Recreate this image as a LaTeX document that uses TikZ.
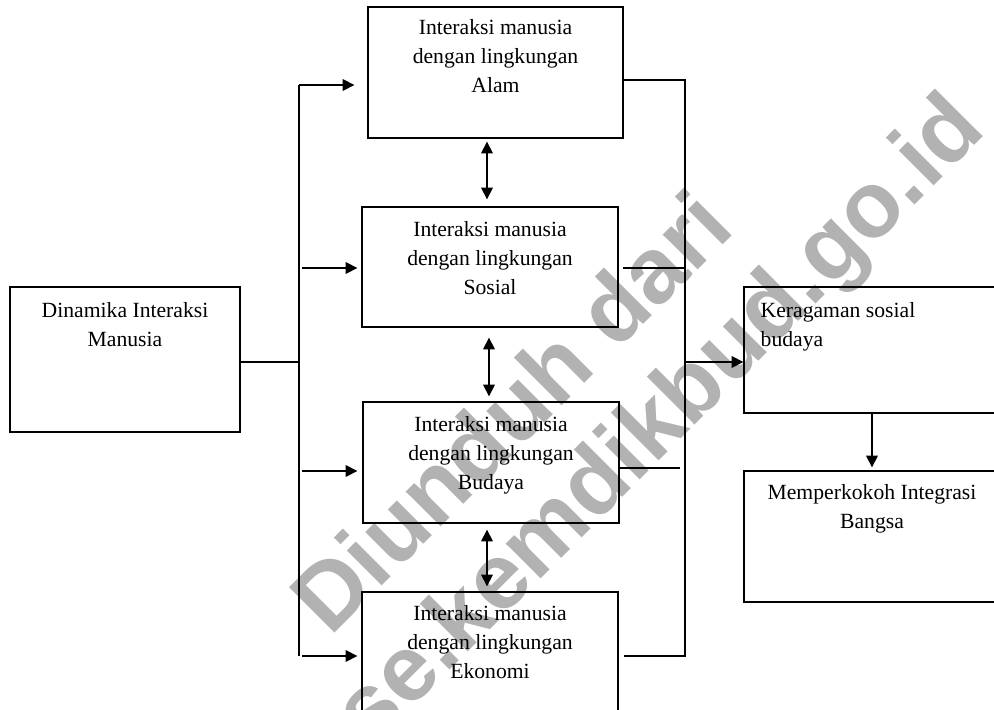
\documentclass[tikz,border=0pt]{standalone}
\usepackage{fontspec}
\setmainfont{Liberation Serif}
\newfontfamily\wmfont{Liberation Sans}
\usetikzlibrary{arrows.meta,calc,positioning}

\tikzset{
    box/.style={draw, line width=0.8pt, inner sep=0pt},
    boxtext/.style={inner sep=0pt, align=center, font=\fontsize{13}{17.4}\selectfont},
    link/.style={line width=0.8pt},
    arr/.style={line width=0.8pt, -{Triangle[length=7pt,width=7pt]}},
    darr/.style={line width=0.8pt, {Triangle[length=7pt,width=7pt]}-{Triangle[length=7pt,width=7pt]}},
    wm/.style={black!30, inner sep=0pt, rotate=45, font=\wmfont\bfseries\fontsize{56}{60}\selectfont}
}

\begin{document}
\begin{tikzpicture}[x=0.6pt, y=-0.6pt]
    \useasboundingbox (0,0) rectangle (994,710);
    \clip (0,0) rectangle (994,710);

    % Watermark
    \node[wm, anchor=base west] (wmone) at (330,638) {Diunduh dari};
    \node[wm, anchor=base east] (wmtwo) at (988,132) {bse.kemdikbud.go.id};

    % Left box
    \node[box, minimum width=138pt, minimum height=87pt] (dinamika) at (125,359.5) {};
    \node[boxtext, anchor=north] (dinamikatext) at ($(dinamika.north)+(0,16)$) {Dinamika Interaksi\\Manusia};

    % Middle column
    \node[box, minimum width=153pt, minimum height=78.6pt] (alam) at (495.5,72.5) {};
    \node[boxtext, anchor=north] (alamtext) at ($(alam.north)+(0,13)$) {Interaksi manusia\\dengan lingkungan\\Alam};

    \node[box, minimum width=153.6pt, minimum height=72pt] (sosial) at (490,267) {};
    \node[boxtext, anchor=north] (sosialtext) at ($(sosial.north)+(0,15)$) {Interaksi manusia\\dengan lingkungan\\Sosial};

    \node[box, minimum width=153.6pt, minimum height=72.6pt] (budaya) at (491,462.5) {};
    \node[boxtext, anchor=north] (budayatext) at ($(budaya.north)+(0,15)$) {Interaksi manusia\\dengan lingkungan\\Budaya};

    \node[box, minimum width=153.6pt, minimum height=75pt] (ekonomi) at (490,654.5) {};
    \node[boxtext, anchor=north] (ekonomitext) at ($(ekonomi.north)+(0,14)$) {Interaksi manusia\\dengan lingkungan\\Ekonomi};

    % Right column
    \node[box, minimum width=153.6pt, minimum height=75.6pt] (keragaman) at (872,350) {};
    \node[boxtext, anchor=north west, align=left] (keragamantext) at ($(keragaman.north west)+(17,16)$) {Keragaman sosial\\budaya};

    \node[box, minimum width=153.6pt, minimum height=78.6pt] (integrasi) at (872,536.5) {};
    \node[boxtext, anchor=north] (integrasitext) at ($(integrasi.north)+(0,14)$) {Memperkokoh Integrasi\\Bangsa};

    % Left trunk
    \coordinate (ltop) at (299,85);
    \coordinate (lbot) at (299,656);
    \draw[link] (dinamika.east |- 0,362) -- (ltop |- 0,362);
    \draw[link] (ltop) -- (lbot);
    \draw[arr] (ltop) -- ($(alam.west |- ltop)+(-13,0)$);
    \draw[arr] ($(ltop |- 0,268)+(3,0)$) -- ($(sosial.west |- 0,268)+(-4,0)$);
    \draw[arr] ($(ltop |- 0,471)+(3,0)$) -- ($(budaya.west |- 0,471)+(-5,0)$);
    \draw[arr] ($(lbot)+(3,0)$) -- ($(ekonomi.west |- lbot)+(-4,0)$);

    % Between the middle boxes
    \draw[darr] ($(alam.south)+(-8.5,3)$) -- ($(sosial.north)+(-3,-7)$);
    \draw[darr] ($(sosial.south)+(-1,10)$) -- ($(budaya.north)+(-2,-5)$);
    \draw[darr] ($(budaya.south)+(-4,6)$) -- ($(ekonomi.north)+(-3,-5)$);

    % Right trunk
    \coordinate (rtop) at (685,80);
    \coordinate (rbot) at (685,656);
    \coordinate (rmid) at (685,362);
    \draw[link] (alam.east |- rtop) -- (rtop) -- (rbot) -- ($(ekonomi.east |- rbot)+(5,0)$);
    \draw[link] ($(sosial.east |- 0,268)+(4,0)$) -- (rtop |- 0,268);
    \draw[link] ($(budaya.east |- 0,468)+(-2,0)$) -- ($(rtop |- 0,468)+(-5,0)$);
    \draw[arr] (rmid) -- (keragaman.west |- rmid);
    \draw[arr] (keragaman.south) -- ($(integrasi.north)+(0,-3)$);
\end{tikzpicture}
\end{document}
